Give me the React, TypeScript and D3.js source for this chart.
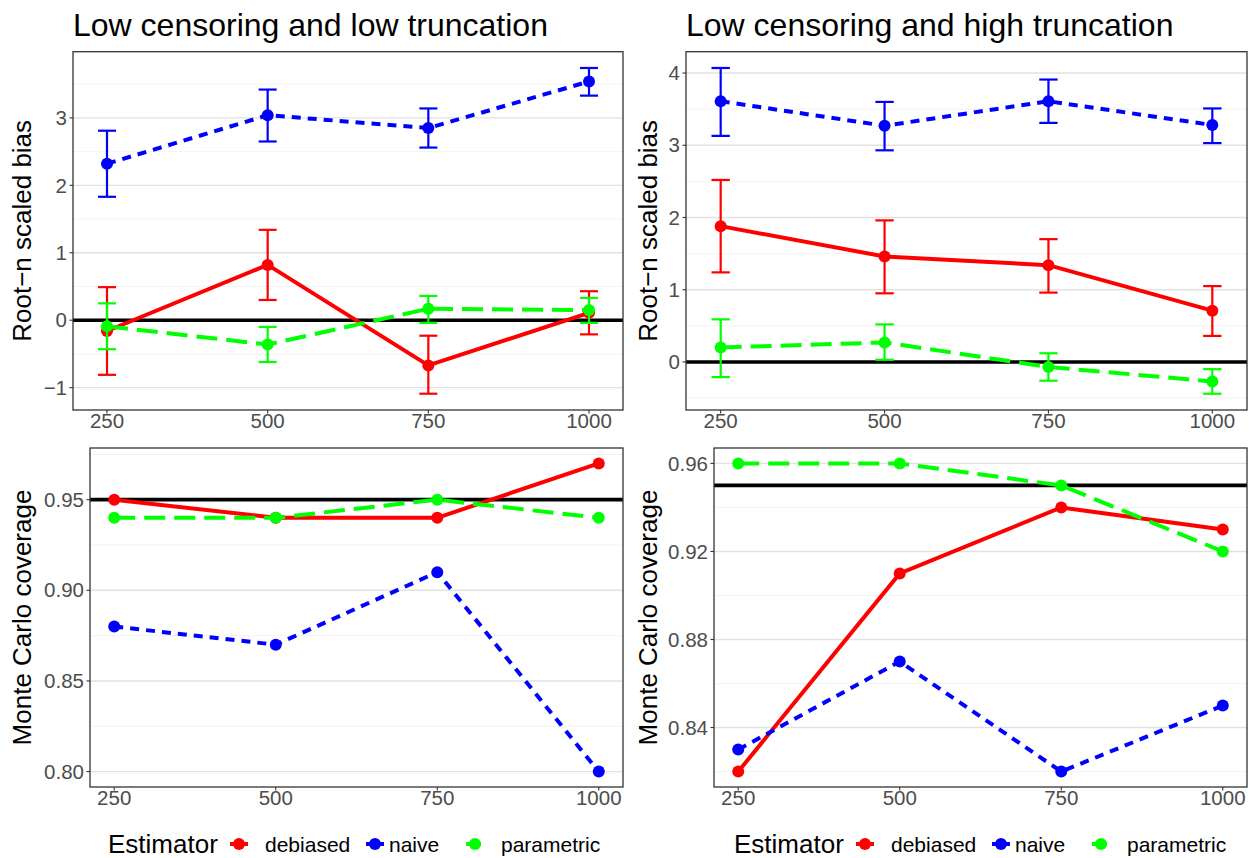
import React from "react";
import * as d3 from "d3";

// sample sizes on the x axis
const sampleSizes = [250, 500, 750, 1000];
const estimators = ["debiased", "naive", "parametric"];
const estimatorColors = ["#FF0000", "#0000FF", "#00FF00"];
const estimatorDash = ["", "9 7", "21 9"];

// low censoring, low truncation: root-n scaled bias with intervals
const lowTruncDebiased = [-0.16, 0.82, -0.67, 0.11];
const lowTruncDebiasedLo = [-0.81, 0.3, -1.09, -0.21];
const lowTruncDebiasedHi = [0.49, 1.34, -0.23, 0.43];
const lowTruncNaive = [2.32, 3.04, 2.85, 3.54];
const lowTruncNaiveLo = [1.83, 2.65, 2.56, 3.33];
const lowTruncNaiveHi = [2.81, 3.42, 3.14, 3.74];
const lowTruncParametric = [-0.09, -0.36, 0.17, 0.15];
const lowTruncParametricLo = [-0.43, -0.62, -0.04, -0.04];
const lowTruncParametricHi = [0.25, -0.1, 0.36, 0.33];

// low censoring, high truncation
const highTruncDebiased = [1.88, 1.46, 1.34, 0.71];
const highTruncDebiasedLo = [1.24, 0.95, 0.96, 0.36];
const highTruncDebiasedHi = [2.52, 1.96, 1.7, 1.05];
const highTruncNaive = [3.61, 3.27, 3.61, 3.28];
const highTruncNaiveLo = [3.13, 2.93, 3.31, 3.03];
const highTruncNaiveHi = [4.07, 3.6, 3.91, 3.51];
const highTruncParametric = [0.2, 0.27, -0.07, -0.27];
const highTruncParametricLo = [-0.21, 0.03, -0.26, -0.44];
const highTruncParametricHi = [0.59, 0.52, 0.12, -0.1];

// Monte Carlo coverage
const lowTruncCovDebiased = [0.95, 0.94, 0.94, 0.97];
const lowTruncCovNaive = [0.88, 0.87, 0.91, 0.8];
const lowTruncCovParametric = [0.94, 0.94, 0.95, 0.94];
const highTruncCovDebiased = [0.82, 0.91, 0.94, 0.93];
const highTruncCovNaive = [0.83, 0.87, 0.82, 0.85];
const highTruncCovParametric = [0.96, 0.96, 0.95, 0.92];

// axis ticks
const biasTicksLow = [-1, 0, 1, 2, 3];
const biasTicksHigh = [0, 1, 2, 3, 4];
const covTicksLow = [0.8, 0.85, 0.9, 0.95];
const covTicksHigh = [0.84, 0.88, 0.92, 0.96];

const FONT = "'Liberation Sans', Arial, Helvetica, sans-serif";
const ERR_W = 28; // errorbar width in x units

type Series = { mean: number[]; lo?: number[]; hi?: number[] };
type Box = { x0: number; x1: number; y0: number; y1: number };

function Panel({ box, series, ticks, fmt, refY }: {
  box: Box; series: Series[]; ticks: number[]; fmt: (v: number) => string; refY: number;
}) {
  const hasErr = series[0].lo !== undefined;
  const xlo = d3.min(sampleSizes)! - (hasErr ? ERR_W / 2 : 0);
  const xhi = d3.max(sampleSizes)! + (hasErr ? ERR_W / 2 : 0);
  const xpad = (xhi - xlo) * 0.05;
  const x = d3.scaleLinear().domain([xlo - xpad, xhi + xpad]).range([box.x0, box.x1]);

  const all = series.flatMap(s => [...s.mean, ...(s.lo || []), ...(s.hi || [])]);
  const [ymin, ymax] = d3.extent(all) as [number, number];
  const ypad = (ymax - ymin) * 0.05;
  const y = d3.scaleLinear().domain([ymin - ypad, ymax + ypad]).range([box.y1, box.y0]);

  const step = ticks[1] - ticks[0];
  const minor = d3.range(ticks[0] - step / 2, ticks[ticks.length - 1] + step, step)
    .filter(v => v > y.domain()[0] && v < y.domain()[1]);

  const line = d3.line<number>().x((_, i) => x(sampleSizes[i])).y(v => y(v));

  return (
    <g>
      {minor.map(v => (
        <line key={"m" + v} x1={box.x0} x2={box.x1} y1={y(v)} y2={y(v)} stroke="#F2F2F2" strokeWidth={0.9} />
      ))}
      {ticks.map(v => (
        <line key={"g" + v} x1={box.x0} x2={box.x1} y1={y(v)} y2={y(v)} stroke="#E2E2E2" strokeWidth={1.4} />
      ))}
      <line x1={box.x0} x2={box.x1} y1={y(refY)} y2={y(refY)} stroke="#000" strokeWidth={3.6} />
      {series.map((s, k) => (
        <g key={k}>
          <path d={line(s.mean) || ""} fill="none" stroke={estimatorColors[k]} strokeWidth={4}
            strokeDasharray={estimatorDash[k] || undefined} />
          {s.mean.map((v, i) => (
            <circle key={i} cx={x(sampleSizes[i])} cy={y(v)} r={6} fill={estimatorColors[k]} />
          ))}
          {s.lo && s.hi && s.mean.map((_, i) => {
            const cx = x(sampleSizes[i]);
            const l = x(sampleSizes[i] - ERR_W / 2);
            const r = x(sampleSizes[i] + ERR_W / 2);
            return (
              <g key={"e" + i} stroke={estimatorColors[k]} strokeWidth={2.2}>
                <line x1={cx} x2={cx} y1={y(s.lo![i])} y2={y(s.hi![i])} />
                <line x1={l} x2={r} y1={y(s.lo![i])} y2={y(s.lo![i])} />
                <line x1={l} x2={r} y1={y(s.hi![i])} y2={y(s.hi![i])} />
              </g>
            );
          })}
        </g>
      ))}
      <rect x={box.x0} y={box.y0} width={box.x1 - box.x0} height={box.y1 - box.y0}
        fill="none" stroke="#333" strokeWidth={1.3} />
      {ticks.map(v => (
        <g key={"t" + v}>
          <line x1={box.x0 - 3.5} x2={box.x0} y1={y(v)} y2={y(v)} stroke="#333" strokeWidth={1.1} />
          <text x={box.x0 - 6} y={y(v)} dy="0.35em" textAnchor="end" fontSize={20.5} fill="#4D4D4D">
            {fmt(v)}
          </text>
        </g>
      ))}
      {sampleSizes.map(v => (
        <g key={"x" + v}>
          <line x1={x(v)} x2={x(v)} y1={box.y1} y2={box.y1 + 3.5} stroke="#333" strokeWidth={1.1} />
          <text x={x(v)} y={box.y1 + 18} textAnchor="middle" fontSize={20.5} fill="#4D4D4D">{v}</text>
        </g>
      ))}
    </g>
  );
}

function YTitle({ x, box, label }: { x: number; box: Box; label: string }) {
  const cy = (box.y0 + box.y1) / 2;
  return (
    <text transform={`translate(${x},${cy}) rotate(-90)`} textAnchor="middle" fontSize={26} fill="#000">
      {label}
    </text>
  );
}

function Legend({ x0 }: { x0: number }) {
  const cy = 844;
  const keyX = [131, 267, 367];
  const labelX = [157, 281, 393];
  return (
    <g>
      <text x={x0} y={853} fontSize={26} fill="#000">Estimator</text>
      {estimators.map((e, k) => (
        <g key={e}>
          <line x1={x0 + keyX[k] - 9} x2={x0 + keyX[k] + 9} y1={cy} y2={cy} stroke={estimatorColors[k]}
            strokeWidth={4} strokeDasharray={estimatorDash[k] ? (k === 1 ? "4 3" : "6 3") : undefined} />
          <circle cx={x0 + keyX[k]} cy={cy} r={6} fill={estimatorColors[k]} />
          <text x={x0 + labelX[k]} y={851.5} fontSize={21} fill="#000">{e}</text>
        </g>
      ))}
    </g>
  );
}

export default function App() {
  const tl: Box = { x0: 73, x1: 623, y0: 51.7, y1: 410 };
  const tr: Box = { x0: 686, x1: 1247, y0: 51.7, y1: 410 };
  const bl: Box = { x0: 90, x1: 623, y0: 448, y1: 787 };
  const br: Box = { x0: 714, x1: 1247, y0: 448, y1: 787 };
  const biasFmt = (v: number) => (v < 0 ? "\u2212" + Math.abs(v) : String(v));
  const covFmt = (v: number) => v.toFixed(2);

  return (
    <svg width={1250} height={858} style={{ position: "absolute", left: 0, top: 0, background: "#fff" }}
      fontFamily={FONT}>
      <rect width={1250} height={858} fill="#fff" />
      <text x={73} y={36} fontSize={32} fill="#000">Low censoring and low truncation</text>
      <text x={686} y={36} fontSize={32} fill="#000">Low censoring and high truncation</text>

      <Panel box={tl} ticks={biasTicksLow} fmt={biasFmt} refY={0}
        series={[
          { mean: lowTruncDebiased, lo: lowTruncDebiasedLo, hi: lowTruncDebiasedHi },
          { mean: lowTruncNaive, lo: lowTruncNaiveLo, hi: lowTruncNaiveHi },
          { mean: lowTruncParametric, lo: lowTruncParametricLo, hi: lowTruncParametricHi },
        ]} />
      <Panel box={tr} ticks={biasTicksHigh} fmt={biasFmt} refY={0}
        series={[
          { mean: highTruncDebiased, lo: highTruncDebiasedLo, hi: highTruncDebiasedHi },
          { mean: highTruncNaive, lo: highTruncNaiveLo, hi: highTruncNaiveHi },
          { mean: highTruncParametric, lo: highTruncParametricLo, hi: highTruncParametricHi },
        ]} />
      <Panel box={bl} ticks={covTicksLow} fmt={covFmt} refY={0.95}
        series={[{ mean: lowTruncCovDebiased }, { mean: lowTruncCovNaive }, { mean: lowTruncCovParametric }]} />
      <Panel box={br} ticks={covTicksHigh} fmt={covFmt} refY={0.95}
        series={[{ mean: highTruncCovDebiased }, { mean: highTruncCovNaive }, { mean: highTruncCovParametric }]} />

      <YTitle x={31} box={tl} label={"Root\u2212n scaled bias"} />
      <YTitle x={657} box={tr} label={"Root\u2212n scaled bias"} />
      <YTitle x={31} box={bl} label="Monte Carlo coverage" />
      <YTitle x={657} box={br} label="Monte Carlo coverage" />

      <Legend x0={108} />
      <Legend x0={734} />
    </svg>
  );
}
